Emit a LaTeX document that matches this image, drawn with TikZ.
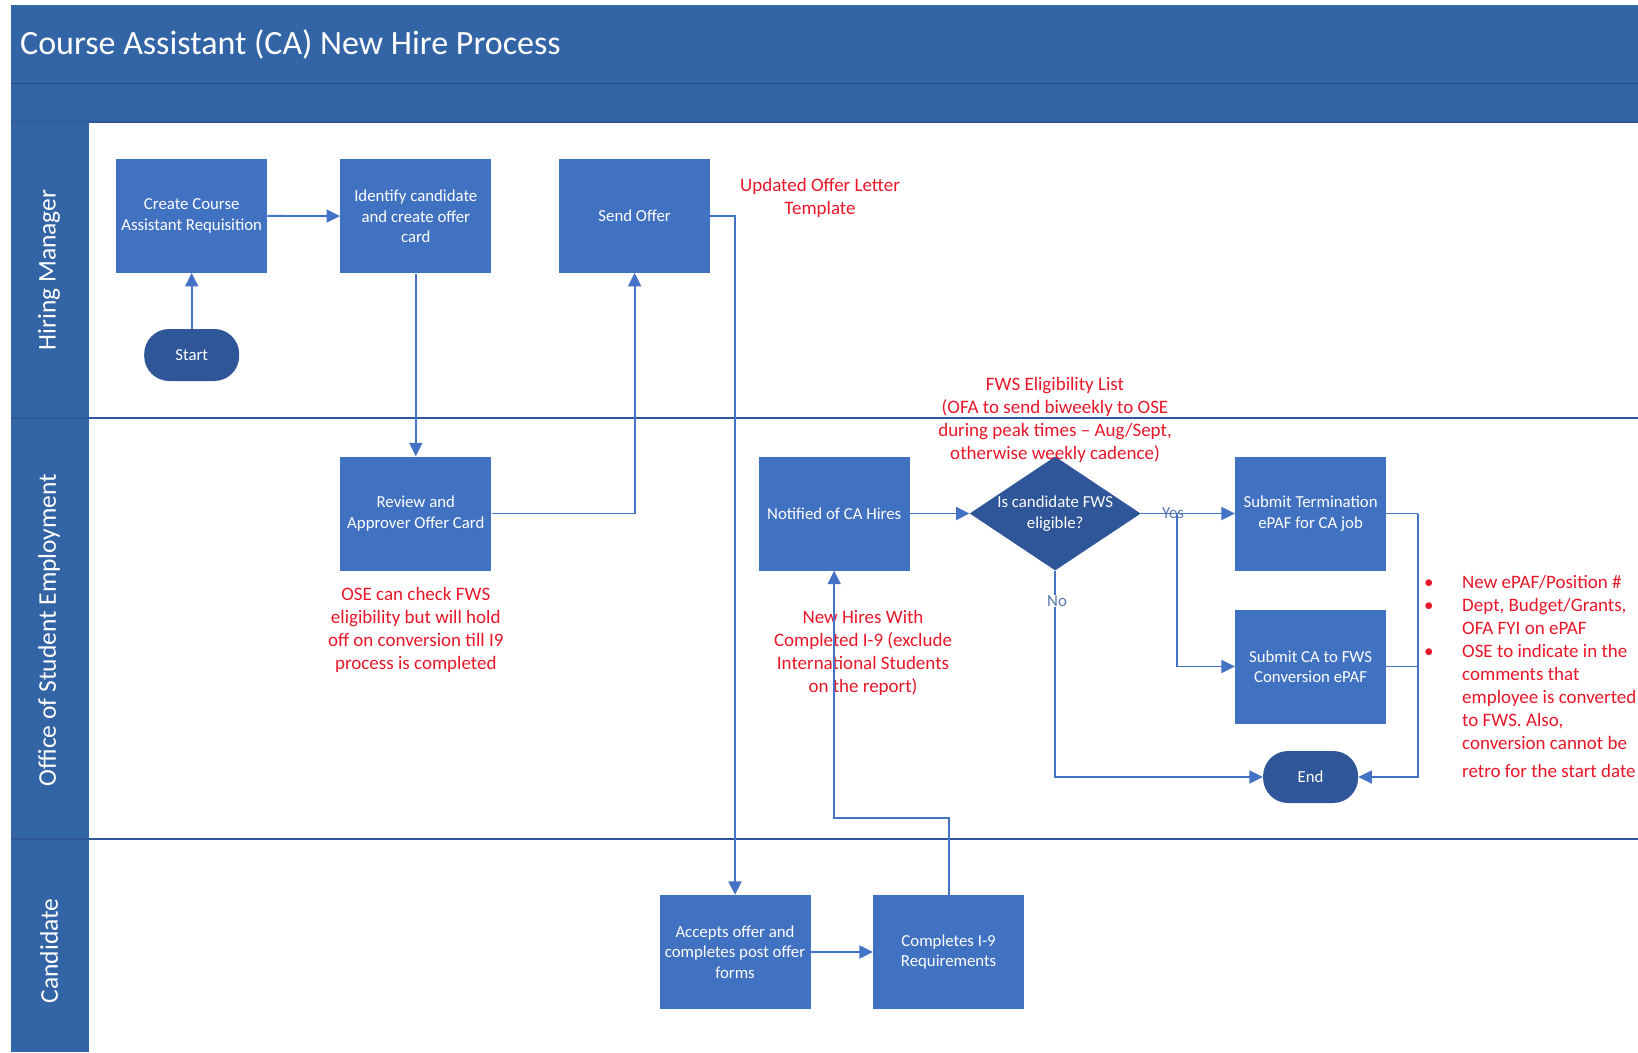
\documentclass[tikz,border=0pt]{standalone}
\usepackage{fontspec}
\setmainfont{Carlito}
\usetikzlibrary{shapes.geometric,arrows.meta}

\definecolor{hdrblue}{RGB}{51,101,166}
\definecolor{boxblue}{RGB}{65,114,193}
\definecolor{darkblue}{RGB}{46,86,152}
\definecolor{lineblue}{RGB}{68,114,196}
\definecolor{notered}{RGB}{232,22,40}

\begin{document}
\begin{tikzpicture}[x=1pt, y=-1pt,
        task/.style = {rectangle, fill=boxblue, minimum width=151pt, minimum height=114pt, inner sep=0pt, align=center, text=white, font=\fontsize{16.8}{20.5}\selectfont},
        terminal/.style = {rectangle, rounded corners=25pt, fill=darkblue, minimum width=95pt, minimum height=52pt, text=white, font=\fontsize{16.8}{20.5}\selectfont},
        decision/.style = {diamond, aspect=1.5, fill=darkblue, inner sep=0pt, minimum width=171pt, minimum height=114pt, align=center, text=white, font=\fontsize{16.8}{20.5}\selectfont},
        note/.style = {align=center, text=notered, font=\fontsize{19}{23}\selectfont},
        lane/.style = {rotate=90, text=white, font=\fontsize{25.5}{30}\selectfont},
        answer/.style = {text=lineblue!70!gray, inner sep=1pt, font=\fontsize{16.8}{19}\selectfont},
        link/.style = {lineblue, line width=1.9pt},
        flow/.style = {link, -{Triangle[length=13.5pt,width=13pt]}}]

        \useasboundingbox (0,0) rectangle (1638,1052);

        % Header
        \fill[hdrblue] (10.5,5) rectangle (1638,122);
        \draw[darkblue!85!black, line width=1.2pt] (10.5,83.6) -- (1638,83.6);
        \draw[darkblue, line width=1.2pt] (10.5,122) -- (1638,122);
        \node[anchor=west, inner sep=0pt, text=white, font=\fontsize{34}{40}\selectfont] (title) at (20,44) {Course Assistant (CA) New Hire Process};

        % Lanes
        \fill[hdrblue] (10.5,122) rectangle (89,1052);
        \draw[darkblue, line width=1.5pt] (10.5,418) -- (1638,418);
        \draw[darkblue, line width=1.5pt] (10.5,839) -- (1638,839);
        \node[lane] (hm) at (49,270) {Hiring Manager};
        \node[lane] (ose) at (49,630) {Office of Student Employment};
        \node[lane] (cand) at (49,951) {Candidate};

        % Hiring Manager steps
        \node[task] (req) at (191.7,215.7) {Create Course\\Assistant Requisition};
        \node[task] (ident) at (415.8,216.3) {Identify candidate\\and create offer\\card};
        \node[task] (send) at (634.6,215.7) {Send Offer};
        \node[terminal] (start) at (191.7,355) {Start};

        % Office of Student Employment steps
        \node[task] (review) at (415.8,513.5) {Review and\\Approver Offer Card};
        \node[task] (notified) at (834.2,513.5) {Notified of CA Hires};
        \node[decision] (elig) at (1055.2,513.5) {Is candidate FWS\\eligible?};
        \node[task] (term) at (1310.6,513.5) {Submit Termination\\ePAF for CA job};
        \node[task] (conv) at (1310.6,666.5) {Submit CA to FWS\\Conversion ePAF};
        \node[terminal] (end) at (1310.6,777) {End};

        % Candidate steps
        \node[task] (accept) at (735,952) {Accepts offer and\\completes post offer\\forms};
        \node[task] (i9) at (948.6,952) {Completes I-9\\Requirements};

        % Notes
        \node[note] (tmpl) at (820,197.5) {Updated Offer Letter\\Template};
        \node[note] (fwslist) at (1055,420) {FWS Eligibility List\\(OFA to send biweekly to OSE\\during peak times – Aug/Sept,\\otherwise weekly cadence)};
        \node[note] (osecheck) at (415.8,630) {OSE can check FWS\\eligibility but will hold\\off on conversion till I9\\process is completed};
        \node[note] (newhires) at (863,653) {New Hires With\\Completed I-9 (exclude\\International Students\\on the report)};
        \node[note, align=left, anchor=north west, inner sep=0pt] (rules) at (1424,572) {%
            \begin{tabular}{@{}p{38pt}@{}l@{}}
                \textbullet & New ePAF/Position \#\\
                \textbullet & Dept, Budget/Grants,\\
                & OFA FYI on ePAF\\
                \textbullet & OSE to indicate in the\\
                & comments that\\
                & employee is converted\\
                & to FWS. Also,\\
                & conversion cannot be\\[5pt]
                & retro for the start date
            \end{tabular}};

        % Connectors
        \coordinate (bend) at (834.2,818);
        \coordinate (fork) at (1177.4,513.5);
        \coordinate (join) at (1417.6,513.5);
        \draw[flow] (start) -- (req);
        \draw[flow] (req) -- (ident);
        \draw[flow] (ident) -- (review);
        \draw[flow] (review.east) -| (send.south);
        \draw[flow] (send.east) -| (accept.north);
        \draw[flow] (accept) -- (i9);
        \draw[flow] (i9.north) |- (bend) -- (notified.south);
        \draw[flow] (notified) -- (elig);
        \draw[flow] (elig) -- (term);
        \draw[flow] (fork) |- (conv.west);
        \draw[flow] (elig.south) |- (end.west);
        \draw[link] (term.east) -- (join);
        \draw[link] (conv.east) -- (conv.east -| join);
        \draw[flow] (join) |- (end.east);

        % Answers
        \node[answer] (yes) at (1173,513) {Yes};
        \node[answer, fill=white] (no) at (1057,601) {No};
    \end{tikzpicture}
\end{document}
